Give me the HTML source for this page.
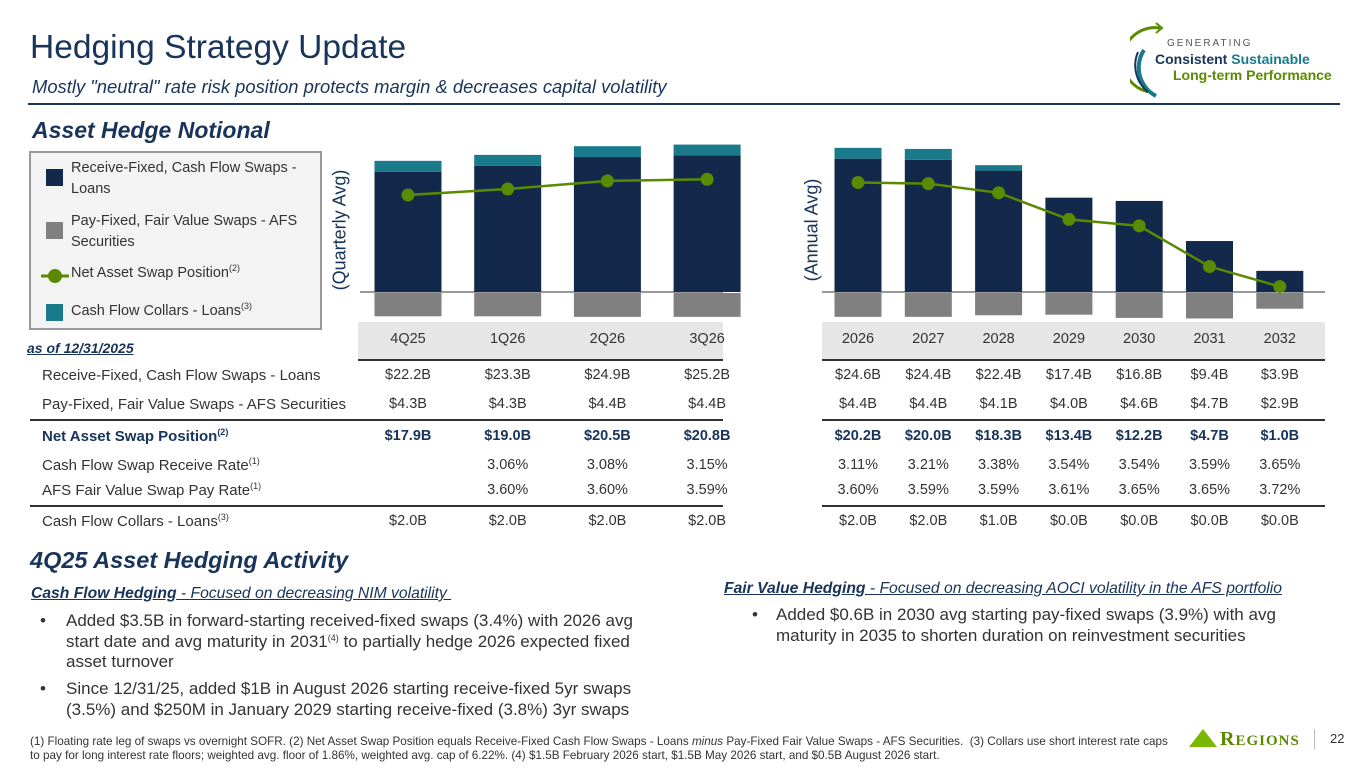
<!DOCTYPE html>
<html><head><meta charset="utf-8">
<style>
*{margin:0;padding:0;box-sizing:border-box}
body{width:1365px;height:768px;position:relative;background:#fff;font-family:"Liberation Sans",sans-serif;color:#333;overflow:hidden}
.a{position:absolute;white-space:nowrap}
.navy{color:#19345a}
.c{transform:translateX(-50%);text-align:center}
.t{font-size:14.5px;color:#333}
.lbl{font-size:15px}
.b{font-weight:bold;color:#19345a}
sup{font-size:9px;vertical-align:6px;line-height:0}
.hl{position:absolute;height:0;border-top:2px solid #333}
.bul{font-size:17px;line-height:20.5px;color:#333}
</style></head><body>
<div class="a navy" style="left:30px;top:29px;font-size:33.5px">Hedging Strategy Update</div>
<div class="a navy" style="left:32px;top:76px;font-size:18.4px;font-style:italic">Mostly "neutral" rate risk position protects margin &amp; decreases capital volatility</div>
<div class="a" style="left:28px;top:103px;width:1312px;height:2px;background:#19345a"></div>
<div>
<svg class="a" style="left:1130px;top:20px" width="60" height="80"><path d="M30 8 A32 32 0 0 0 20 72" stroke="#5a8a00" stroke-width="3" fill="none"/><path d="M14 30 A32 32 0 0 0 26 76" stroke="#1a7a8c" stroke-width="4" fill="none"/><path d="M8 32 A34 34 0 0 0 18 72" stroke="#19345a" stroke-width="2" fill="none"/><path d="M26 3 L32 8 L26 13" stroke="#5a8a00" stroke-width="2" fill="none"/></svg>
<div class="a" style="left:1167px;top:38px;font-size:10px;letter-spacing:2px;color:#555">GENERATING</div>
<div class="a" style="left:1155px;top:51px;font-size:14px;font-weight:bold;color:#19345a">Consistent <span style="color:#1a7a8c">Sustainable</span></div>
<div class="a" style="left:1173px;top:67px;font-size:14px;font-weight:bold;color:#5a8a00">Long-term Performance</div>
</div>
<div class="a navy" style="left:32px;top:117px;font-size:23px;font-weight:bold;font-style:italic">Asset Hedge Notional</div>

<div class="a" style="left:29px;top:151px;width:293px;height:179px;background:#f3f3f3;border:2px solid #999"></div>
<div class="a" style="left:46px;top:169px;width:17px;height:17px;background:#13294b"></div>
<div class="a t" style="left:71px;top:158px;line-height:21px;font-size:14.5px">Receive-Fixed, Cash Flow Swaps -<br>Loans</div>
<div class="a" style="left:46px;top:222px;width:17px;height:17px;background:#808080"></div>
<div class="a t" style="left:71px;top:211px;line-height:21px;font-size:14.5px">Pay-Fixed, Fair Value Swaps - AFS<br>Securities</div>
<svg class="a" style="left:40px;top:266px" width="30" height="20"><line x1="1" y1="10" x2="29" y2="10" stroke="#5a8a00" stroke-width="3"/><circle cx="15" cy="10" r="7" fill="#5a8a00"/></svg>
<div class="a t" style="left:71px;top:265px;font-size:14.5px">Net Asset Swap Position<sup>(2)</sup></div>
<div class="a" style="left:46px;top:304px;width:17px;height:17px;background:#1a7a8c"></div>
<div class="a t" style="left:71px;top:303px;font-size:14.5px">Cash Flow Collars - Loans<sup>(3)</sup></div>

<div class="a" style="left:358px;top:322px;width:365px;height:37px;background:#e6e6e6"></div>
<div class="a" style="left:822px;top:322px;width:503px;height:37px;background:#e6e6e6"></div>
<div class="a navy" style="left:340px;top:230px;font-size:18px;transform:translate(-50%,-50%) rotate(-90deg)">(Quarterly Avg)</div>
<div class="a navy" style="left:812px;top:230px;font-size:18px;transform:translate(-50%,-50%) rotate(-90deg)">(Annual Avg)</div>

<svg id="chart" class="a" style="left:0;top:0" width="1365" height="560"></svg>

<div class="a" style="left:27px;top:340px;font-size:14px;font-weight:bold;font-style:italic;color:#19345a;text-decoration:underline">as of 12/31/2025</div>
<div id="tbl"></div>
<div class="hl" style="left:358px;top:359px;width:365px"></div>
<div class="hl" style="left:822px;top:359px;width:503px"></div>
<div class="hl" style="left:30px;top:419px;width:693px"></div>
<div class="hl" style="left:822px;top:419px;width:503px"></div>
<div class="hl" style="left:30px;top:505px;width:693px"></div>
<div class="hl" style="left:822px;top:505px;width:503px"></div>

<div class="a navy" style="left:30px;top:547px;font-size:23.5px;font-weight:bold;font-style:italic">4Q25 Asset Hedging Activity</div>
<div class="a" style="left:31px;top:585px;font-size:15.7px;color:#19345a;text-decoration:underline"><b><i>Cash Flow Hedging</i></b><i> - Focused on decreasing NIM volatility&nbsp;</i></div>
<div class="a bul" style="left:40px;top:611px">•</div>
<div class="a bul" style="left:66px;top:611px">Added $3.5B in forward-starting received-fixed swaps (3.4%) with 2026 avg<br>start date and avg maturity in 2031<sup>(4)</sup> to partially hedge 2026 expected fixed<br>asset turnover</div>
<div class="a bul" style="left:40px;top:679px">•</div>
<div class="a bul" style="left:66px;top:679px">Since 12/31/25, added $1B in August 2026 starting receive-fixed 5yr swaps<br>(3.5%) and $250M in January 2029 starting receive-fixed (3.8%) 3yr swaps</div>
<div class="a" style="left:724px;top:580px;font-size:15.7px;color:#19345a;text-decoration:underline"><b><i>Fair Value Hedging</i></b><i> - Focused on decreasing AOCI volatility in the AFS portfolio</i></div>
<div class="a bul" style="left:752px;top:605px">•</div>
<div class="a bul" style="left:776px;top:605px">Added $0.6B in 2030 avg starting pay-fixed swaps (3.9%) with avg<br>maturity in 2035 to shorten duration on reinvestment securities</div>

<div class="a" style="left:30px;top:735px;font-size:11.7px;line-height:14px;color:#333">(1) Floating rate leg of swaps vs overnight SOFR. (2) Net Asset Swap Position equals Receive-Fixed Cash Flow Swaps - Loans <i>minus</i> Pay-Fixed Fair Value Swaps - AFS Securities.&nbsp; (3) Collars use short interest rate caps<br>to pay for long interest rate floors; weighted avg. floor of 1.86%, weighted avg. cap of 6.22%. (4) $1.5B February 2026 start, $1.5B May 2026 start, and $0.5B August 2026 start.</div>
<svg class="a" style="left:1188px;top:728px" width="30" height="20"><polygon points="15,1 29,19 1,19" fill="#7ab800"/></svg>
<div class="a" style="left:1220px;top:728px;font-family:'Liberation Serif',serif;font-size:20px;font-weight:bold;color:#5a8a00;letter-spacing:1px">R<span style="font-size:15px">EGIONS</span></div>
<div class="a" style="left:1314px;top:729px;width:1px;height:20px;background:#bbb"></div>
<div class="a" style="left:1330px;top:731px;font-size:13px;color:#333">22</div>

<script>
const quarters=["4Q25","1Q26","2Q26","3Q26"];
const qReceive=[22.2,23.3,24.9,25.2];
const qPay=[4.3,4.3,4.4,4.4];
const qNet=[17.9,19.0,20.5,20.8];
const qCollars=[2.0,2.0,2.0,2.0];
const qRecvRate=["","3.06%","3.08%","3.15%"];
const qPayRate=["","3.60%","3.60%","3.59%"];
const years=["2026","2027","2028","2029","2030","2031","2032"];
const yReceive=[24.6,24.4,22.4,17.4,16.8,9.4,3.9];
const yPay=[4.4,4.4,4.1,4.0,4.6,4.7,2.9];
const yNet=[20.2,20.0,18.3,13.4,12.2,4.7,1.0];
const yCollars=[2.0,2.0,1.0,0.0,0.0,0.0,0.0];
const yRecvRate=["3.11%","3.21%","3.38%","3.54%","3.54%","3.59%","3.65%"];
const yPayRate=["3.60%","3.59%","3.59%","3.61%","3.65%","3.65%","3.72%"];

const NS="http://www.w3.org/2000/svg";
const svg=document.getElementById('chart');
const base=292, k=5.42;
const yScale=v=>base-v*k;
function mk(t,a){const e=document.createElementNS(NS,t);for(const n in a)e.setAttribute(n,a[n]);svg.appendChild(e);return e;}
const qX=i=>408+i*99.7;
const yX=i=>858+i*70.3;
function panel(cats,rec,pay,net,col,xf,bw,x0,x1,key){
  const ax=mk('line',{x1:x0,x2:x1,y1:base,y2:base,stroke:'#333','stroke-width':1});
  
  
  cats.forEach((c,i)=>{
    const x=xf(i)-bw/2;
    const r=mk('rect',{x:x,y:yScale(rec[i]),width:bw,height:base-yScale(rec[i]),fill:'#13294b'});
    
    
    if(col[i]>0){
      const cl=mk('rect',{x:x,y:yScale(rec[i]+col[i]),width:bw,height:col[i]*k,fill:'#1a7a8c'});
      
      
    }
    const p=mk('rect',{x:x,y:base+1,width:bw,height:pay[i]*k,fill:'#808080'});
    
    
  });
  const pl=mk('polyline',{points:net.map((v,i)=>xf(i)+','+yScale(v)).join(' '),fill:'none',stroke:'#5a8a00','stroke-width':2.5});
  
  
  net.forEach((v,i)=>{
    const d=mk('circle',{cx:xf(i),cy:yScale(v),r:6.5,fill:'#5a8a00'});
    
    
  });
}
panel(quarters,qReceive,qPay,qNet,qCollars,qX,67,360,723,'quarterly');
panel(years,yReceive,yPay,yNet,yCollars,yX,47,822,1325,'annual');

const tbl=document.getElementById('tbl');
function cell(txt,x,y,cls,name){
  const d=document.createElement('div');
  d.className='a c '+cls;
  d.style.left=x+'px';d.style.top=(y-9)+'px';
  d.innerHTML=txt;
  
  
  tbl.appendChild(d);
}
function lab(txt,y,cls,name){
  const d=document.createElement('div');
  d.className='a '+cls;
  d.style.left='42px';d.style.top=(y-9)+'px';
  d.innerHTML=txt;
  
  
  tbl.appendChild(d);
}
const fmt=v=>'$'+v.toFixed(1)+'B';
const rows=[376,405,437,466,491,522];
lab('Receive-Fixed, Cash Flow Swaps - Loans',rows[0],'t lbl','row-label-receive');
lab('Pay-Fixed, Fair Value Swaps - AFS Securities',rows[1],'t lbl','row-label-pay');
lab('Net Asset Swap Position<sup>(2)</sup>',rows[2],'t lbl b','row-label-net');
lab('Cash Flow Swap Receive Rate<sup>(1)</sup>',rows[3],'t lbl','row-label-receive-rate');
lab('AFS Fair Value Swap Pay Rate<sup>(1)</sup>',rows[4],'t lbl','row-label-pay-rate');
lab('Cash Flow Collars - Loans<sup>(3)</sup>',rows[5],'t lbl','row-label-collars');
function cols(cats,xf,rec,pay,net,rr,pr,col,off){
  cats.forEach((c,i)=>{
    const x=xf(i);
    cell(c,x,340,'t','col-header-'+c);
    cell(fmt(rec[i]),x,rows[0],'t','receive-'+c);
    cell(fmt(pay[i]),x,rows[1],'t','pay-'+c);
    cell(fmt(net[i]),x,rows[2],'t b','net-'+c);
    cell(rr[i],x+off,rows[3],'t','receive-rate-'+c);
    cell(pr[i],x+off,rows[4],'t','pay-rate-'+c);
    cell(fmt(col[i]),x,rows[5],'t','collars-'+c);
  });
}
cols(quarters,qX,qReceive,qPay,qNet,qRecvRate,qPayRate,qCollars,0);
cols(years,yX,yReceive,yPay,yNet,yRecvRate,yPayRate,yCollars,0);
</script>
</body></html>
